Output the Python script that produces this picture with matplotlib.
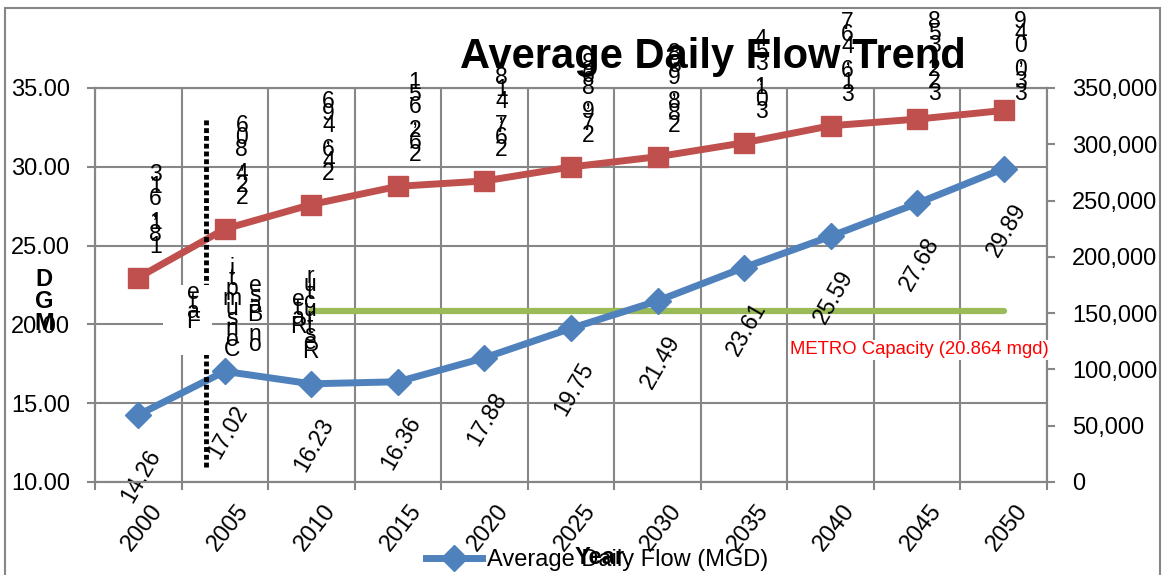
import matplotlib
matplotlib.use("Agg")
import matplotlib.pyplot as plt
from matplotlib import font_manager
from matplotlib.patches import Rectangle
from matplotlib.transforms import ScaledTranslation
from matplotlib.lines import Line2D
import numpy as np

# ---------------- data ----------------
years = ["2000", "2005", "2010", "2015", "2020", "2025", "2030", "2035", "2040", "2045", "2050"]
avg_flow_mgd = [14.26, 17.02, 16.23, 16.36, 17.88, 19.75, 21.49, 23.61, 25.59, 27.68, 29.89]
population = [181613, 224806, 246496, 262651, 267418, 279868, 288938, 301354, 316467, 322358, 330049]
metro_capacity = 20.864
left_ticks = [10, 15, 20, 25, 30, 35]
right_ticks = [0, 50000, 100000, 150000, 200000, 250000, 300000, 350000]
note_texts = ["Fate", "Consumpti", "on Base", "Rate", "Restructur"]

# ---------------- fonts ----------------
names = {f.name for f in font_manager.fontManager.ttflist}
BASE = "Liberation Sans" if "Liberation Sans" in names else "DejaVu Sans"
NARROW = "Liberation Sans Narrow" if "Liberation Sans Narrow" in names else None
plt.rcParams["font.family"] = [BASE, "DejaVu Sans"]

W, H = 1165, 575
fig = plt.figure(figsize=(W / 100, H / 100), dpi=100)
fig.patch.set_facecolor("white")

def fx(px):
    return px / W

def fy(py):
    return 1 - py / H

ax = fig.add_axes([fx(95), fy(482), fx(1047) - fx(95), fy(88) - fy(482)])
ax2 = ax.twinx()
ax2.set_position(ax.get_position())

GRID = "#868686"
BLUE = "#4F81BD"
RED = "#C0504D"
GREEN = "#9BBB59"

x = np.arange(len(years))
ax.set_xlim(-0.5, len(years) - 0.5)
ax.set_ylim(10, 35)
ax2.set_ylim(0, 350000)

# ticks
ax.set_yticks(left_ticks)
ax.set_yticklabels([f"{v:.2f}" for v in left_ticks])
ax2.set_yticks(right_ticks)
ax2.set_yticklabels([f"{v:,}" for v in right_ticks])
ax.set_xticks(x)
ax.set_xticklabels(years, rotation=52, ha="right", va="center", rotation_mode="anchor")
ax.set_xticks(np.arange(-0.5, len(years)), minor=True)
ax.tick_params(axis="x", which="major", length=0, pad=18, labelsize=17)
ax.tick_params(axis="x", which="minor", length=6, width=1.5, color=GRID)
ax.tick_params(axis="y", length=6, width=1.5, color=GRID, pad=12, labelsize=17)
ax2.tick_params(axis="y", length=6, width=1.5, color=GRID, pad=12, labelsize=17)
off = ScaledTranslation(20 / 100, 0, fig.dpi_scale_trans)
for lab in ax.get_xticklabels():
    lab.set_transform(lab.get_transform() + off)

ax.grid(True, which="minor", axis="x", color=GRID, lw=1.5)
ax.grid(True, which="major", axis="y", color=GRID, lw=1.5)
ax.set_axisbelow(True)
for a in (ax, ax2):
    for s in a.spines.values():
        s.set_color(GRID)
        s.set_linewidth(1.5)

# METRO capacity line
ax.plot([2, len(years) - 1], [metro_capacity, metro_capacity], color=GREEN, lw=4.5,
        solid_capstyle="round", zorder=2)

# Average daily flow (blue)
ax.plot(x, avg_flow_mgd, color=BLUE, lw=5, marker="D", markersize=13, zorder=3)
for xi, v in zip(x, avg_flow_mgd):
    ax.annotate(f"{v:.2f}", (xi, v), xytext=(2, -44), textcoords="offset points",
                rotation=60, ha="center", va="center", fontsize=16.5, zorder=4)

# Population (red)
ax2.plot(x, population, color=RED, lw=5, marker="s", markersize=15, zorder=3)
red_labels = []
for xi, v in zip(x, population):
    dx, dy = ax2.transData.transform((xi, v))
    fxy = fig.transFigure.inverted().transform((dx + 17, dy + 20))
    t = ax2.text(fxy[0], fxy[1], "\n".join(reversed(f"{v:,}")), transform=fig.transFigure,
                 ha="center", va="bottom", fontsize=16.5, linespacing=0.6, zorder=5)
    red_labels.append(t)

# dotted vertical marker line
ax2.plot([0.78, 0.78], [10.95, 33.1], transform=ax.transData, color="black", lw=3.5,
         ls=(0, (1, 0.6)), zorder=4)

# white box behind first note
ax2.add_patch(Rectangle((0.29, 18.06), 0.56, 4.45, transform=ax.transData,
                        facecolor="white", edgecolor="none", zorder=5))

# vertical stacked notes
note_pos = [(0.633, 22.75), (1.084, 24.3), (1.35, 23.2), (1.847, 22.3), (1.986, 23.8)]
note_heights = [52, 104, 82, 50, 98]
notes = []
for t, (nx, ny) in zip(note_texts, note_pos):
    notes.append(ax2.text(nx, ny, "\n".join(reversed(t)), transform=ax.transData,
                          ha="center", va="top", fontsize=16.5, linespacing=0.5, zorder=6))

# METRO capacity label
ax2.text(7.53, 18.38, f"METRO Capacity ({metro_capacity} mgd)", transform=ax.transData,
         color="#FF0000", fontsize=13.3, ha="left", va="center", zorder=6,
         bbox=dict(facecolor="white", edgecolor="none", pad=1))

# title
tkw = dict(fontsize=35, family=[NARROW, BASE]) if NARROW else dict(fontsize=30)
fig.text(fx(713), fy(68), "Average Daily Flow Trend", ha="center", va="baseline",
         fontweight="bold", **tkw)

# y label (stacked)
fig.text(fx(44), fy(268), "D\nG\nM", ha="center", va="top", fontweight="bold",
         fontsize=17, linespacing=0.95)

# legend and x label
handle = Line2D([], [], color=BLUE, lw=5, marker="D", markersize=13)
fig.legend([handle], ["Average Daily Flow (MGD)"], loc="center",
           bbox_to_anchor=(fx(597), fy(560)), frameon=False, fontsize=17,
           handlelength=2.4, handletextpad=0.2)
fig.text(fx(600), fy(557), "Year", ha="center", va="center", fontweight="bold", fontsize=17)

# outer chart border
fig.add_artist(Rectangle((fx(5), -0.01), fx(1160) - fx(5), fy(8) + 0.01,
                         transform=fig.transFigure, fill=False, edgecolor=GRID, lw=1.5))

# ---- fit the stacked (vertical) texts to the heights seen in the original ----
fig.canvas.draw()
renderer = fig.canvas.get_renderer()

def fit_stack(t, target):
    t.set_linespacing(1.0)
    h1 = t.get_window_extent(renderer).height
    t.set_linespacing(0.5)
    h2 = t.get_window_extent(renderer).height
    slope = (h1 - h2) / 0.5
    if slope > 0:
        t.set_linespacing(max(0.05, 0.5 + (target - h2) / slope))

for t in red_labels:
    fit_stack(t, 95)
for t, h in zip(notes, note_heights):
    fit_stack(t, h)

# keep stacked population labels inside the chart area
for t in red_labels:
    bb = t.get_window_extent(renderer)
    top_limit = H - 10
    if bb.y1 > top_limit:
        px, py = fig.transFigure.transform(t.get_position())
        t.set_position(fig.transFigure.inverted().transform((px, py - (bb.y1 - top_limit))))

fig.savefig("out.png", dpi=100)
